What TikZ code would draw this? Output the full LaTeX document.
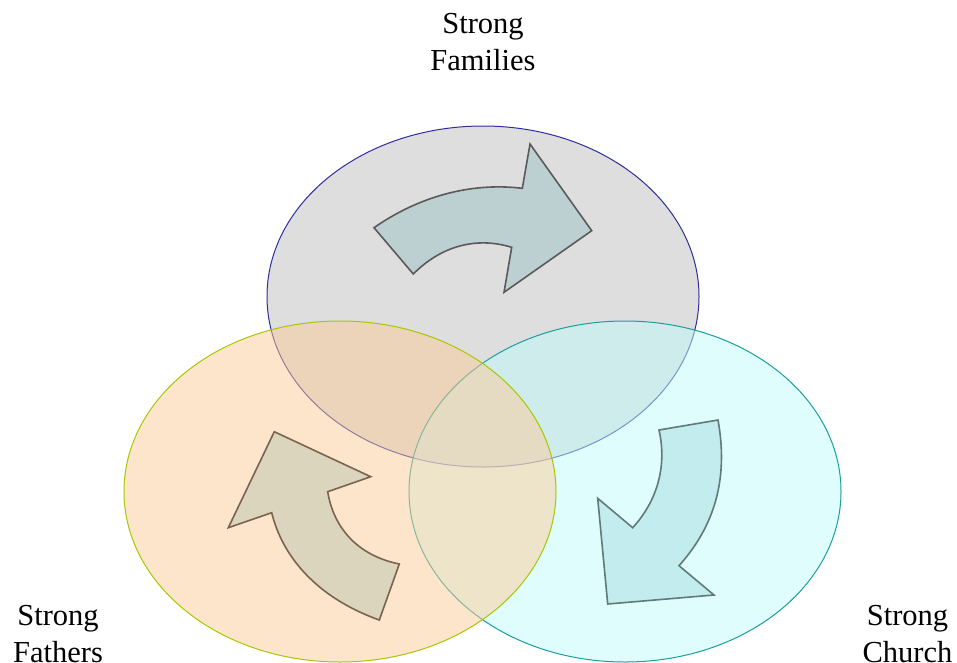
\documentclass[tikz,border=0pt]{standalone}
\usepackage{fontspec}
\setmainfont{Liberation Serif}
\definecolor{famFill}{HTML}{DEDEDE}
\definecolor{famLine}{HTML}{2E2E9E}
\definecolor{fatFill}{HTML}{FBCB99}
\definecolor{fatLine}{HTML}{A6C800}
\definecolor{chuFill}{HTML}{C1FBFB}
\definecolor{chuLine}{HTML}{1A9E9E}
\definecolor{famArrow}{HTML}{BCD0D2}
\definecolor{famArrowLine}{HTML}{5A5A5A}
\definecolor{fatArrow}{HTML}{DBD5BE}
\definecolor{fatArrowLine}{HTML}{7A6450}
\definecolor{chuArrow}{HTML}{C2ECED}
\definecolor{chuArrowLine}{HTML}{5F7A78}
\tikzset{
  circlefill/.style={line width=1pt, fill opacity=0.5},
  bentarrow/.style={line width=1.6pt, line join=miter},
  label/.style={inner sep=0pt, align=center, anchor=base,
    font=\fontsize{30.5}{37.3}\selectfont}
}
\begin{document}
\begin{tikzpicture}[x=1pt,y=-1pt]
\useasboundingbox (0,0) rectangle (957,662);

% the three overlapping circles
\path[draw=famLine, fill=famFill, line width=1pt] (483,296.5) ellipse [x radius=216pt, y radius=170.5pt];
\path[draw=chuLine, fill=chuFill, circlefill] (625,491.5) ellipse [x radius=216pt, y radius=170.5pt];
\path[draw=fatLine, fill=fatFill, circlefill] (340,491.5) ellipse [x radius=216pt, y radius=170.5pt];

% curved arrows inside each circle
\draw[bentarrow, draw=famArrowLine, fill=famArrow]
  (374,227.7) -- (413.3,274)
  .. controls (440,247) and (475,236) .. (511.7,247.3)
  -- (504,292.3) -- (591.7,230.7) -- (530,144) -- (522.3,188.3)
  .. controls (470,182) and (418,197) .. cycle;

\draw[bentarrow, draw=chuArrowLine, fill=chuArrow]
  (659,430) -- (718,420)
  .. controls (727,470) and (720,520) .. (679,565.7)
  -- (714,595) -- (607.7,604) -- (597.7,498.3) -- (632.7,527.7)
  .. controls (658,500) and (667,465) .. cycle;

\draw[bentarrow, draw=fatArrowLine, fill=fatArrow]
  (274.3,431.7) -- (370.7,476.7) -- (327.7,491.7)
  .. controls (333,525) and (355,555) .. (399.3,564)
  -- (379.3,620)
  .. controls (315,597) and (282,555) .. (271.7,512.7)
  -- (228.3,527.7) -- cycle;

% labels (anchored at the baseline of their second line)
\node[label] (families) at (483,70.6) {Strong\\Families};
\node[label] (fathers) at (58,662.8) {Strong\\Fathers};
\node[label] (church) at (907.5,662.8) {Strong\\Church};
\end{tikzpicture}
\end{document}
